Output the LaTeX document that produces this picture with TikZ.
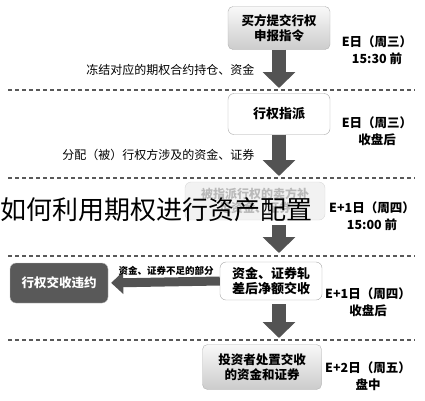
\documentclass[tikz,border=0pt]{standalone}
\usepackage{fontspec}
\setmainfont{Noto Sans CJK SC}
\usetikzlibrary{arrows.meta, positioning}

\begin{document}
\begin{tikzpicture}[x=1pt, y=-1pt]
			\tikzstyle{graybox}=[
			draw=gray!60,
			rounded corners=5pt,
			top color=gray!5,
			bottom color=gray!40,
			align=center,
			font=\fontsize{12.5}{15}\selectfont\bfseries
			]
			\tikzstyle{whitebox}=[
			draw=gray!70,
			rounded corners=6pt,
			fill=white,
			align=center,
			font=\fontsize{13}{15.5}\selectfont\bfseries
			]
			\tikzstyle{datelabel}=[
			align=center,
			font=\fontsize{12.5}{17}\selectfont\bfseries
			]
			\tikzstyle{flowlabel}=[
			font=\fontsize{12}{14}\selectfont
			]
			\tikzstyle{bigarrow}=[
			draw=gray!65!black,
			line width=14pt,
			-{Triangle[width=32pt, length=16pt]}
			]
			\tikzstyle{daysep}=[
			draw=gray!70!black,
			line width=1.1pt,
			dash pattern=on 4pt off 3pt
			]
			\useasboundingbox (0,0) rectangle (425,400);
			% separators between days
			\foreach \y in {90, 178, 256, 340}
				\draw[daysep] (8,\y) -- (415,\y);
			% boxes
			\node[graybox, minimum width=102pt, minimum height=43pt] (SUBMIT) at (279,28) {买方提交行权\\申报指令};
			\node[whitebox, minimum width=102pt, minimum height=41pt] (ASSIGN) at (279,114) {行权指派};
			\node[draw=gray!30, rounded corners=6pt, fill=gray!10, text=gray!55, align=center,
				font=\fontsize{12}{14}\selectfont\bfseries,
				minimum width=140pt, minimum height=38pt] (REFILL) at (255,201) {被指派行权的卖方补\\足资金、证券};
			\node[whitebox, minimum width=102pt, minimum height=38pt] (NETTING) at (271,281) {资金、证券轧\\差后净额交收};
			\node[draw=gray!50, rounded corners=6pt, fill=gray!70!black, text=white,
				font=\fontsize{12.5}{15}\selectfont\bfseries,
				minimum width=98pt, minimum height=40pt] (DEFAULT) at (59,283) {行权交收违约};
			\node[graybox, minimum width=119pt, minimum height=45pt] (SETTLE) at (262,367) {投资者处置交收\\的资金和证券};
			% dates
			\node[datelabel] (D1) at (377,50) {E日（周三）\\15:30 前};
			\node[datelabel] (D2) at (377,131) {E日（周三）\\收盘后};
			\node[datelabel] (D3) at (372,216) {E+1日（周四）\\15:00 前};
			\node[datelabel] (D4) at (368,302) {E+1日（周四）\\收盘后};
			\node[datelabel] (D5) at (368,376) {E+2日（周五）\\盘中};
			% arrows
			\coordinate (A1) at (279,88);
			\coordinate (A2) at (279,176);
			\coordinate (A3) at (279,253);
			\coordinate (A4) at (279,338);
			\draw[bigarrow] (SUBMIT.south) -- (A1);
			\draw[bigarrow] (ASSIGN.south) -- (A2);
			\draw[bigarrow, shorten <=5pt] (REFILL.south -| A3) -- (A3);
			\draw[bigarrow, shorten <=4pt] (NETTING.south -| A4) -- (A4);
			\draw[draw=gray!65!black, line width=9pt, -{Triangle[width=22pt, length=12pt]}, shorten >=3pt]
				(NETTING.west) -- (DEFAULT.east);
			% labels on arrows
			\node[flowlabel, anchor=east] (L1) at (258,70) {冻结对应的期权合约持仓、资金};
			\node[flowlabel, anchor=east] (L2) at (258,155) {分配（被）行权方涉及的资金、证券};
			\node[font=\fontsize{9.5}{11}\selectfont\bfseries] (L3) at (166,271) {资金、证券不足的部分};
			% title over the picture
			\node[anchor=west, inner sep=0pt, font=\fontsize{26}{30}\selectfont] (TITLE) at (0,210) {如何利用期权进行资产配置};
			%\node[draw=red, fit=(REFILL)] {};
		\end{tikzpicture}
\end{document}
